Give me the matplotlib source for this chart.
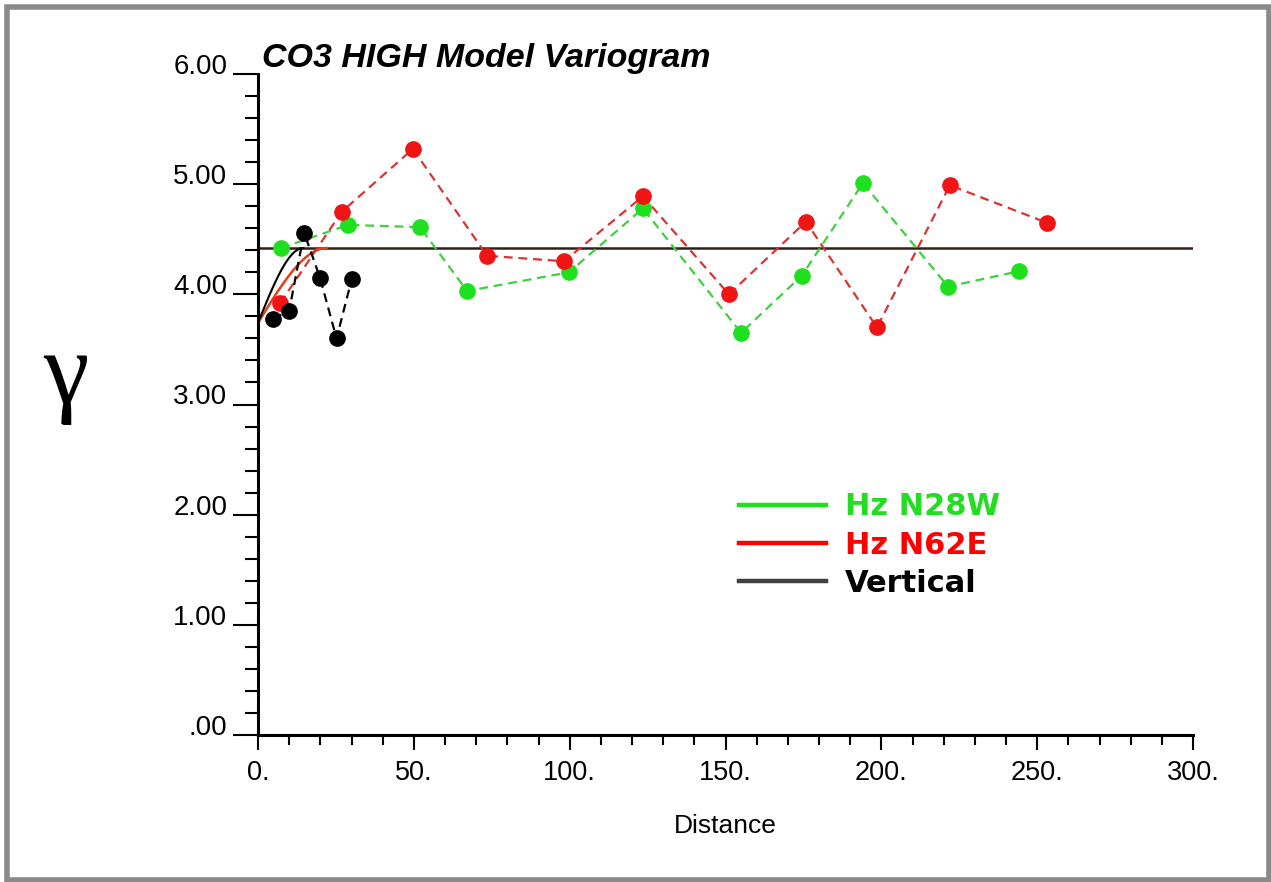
import numpy as np
import matplotlib
matplotlib.use('Agg')
import matplotlib.pyplot as plt
from matplotlib.lines import Line2D
from matplotlib.patches import Rectangle
from matplotlib.ticker import MultipleLocator

n28w_dist = [7.4, 28.9, 52.0, 67.1, 99.8, 123.5, 155.0, 174.5, 194.1, 221.4, 244.2]
n28w_gam = [4.42, 4.63, 4.61, 4.03, 4.20, 4.78, 3.65, 4.17, 5.01, 4.07, 4.21]

n62e_dist = [7.1, 26.9, 49.7, 73.5, 98.2, 123.5, 151.1, 175.8, 198.6, 222.0, 253.1]
n62e_gam = [3.92, 4.75, 5.32, 4.35, 4.30, 4.89, 4.00, 4.66, 3.70, 4.99, 4.65]

vert_dist = [4.9, 10.0, 14.8, 19.9, 25.2, 30.1]
vert_gam = [3.78, 3.85, 4.56, 4.15, 3.60, 4.14]

# model parameters (spherical)
nugget = 3.74
sill = 4.42
range_vert = 14.5
range_n62e = 22.0

xticks = [0, 50, 100, 150, 200, 250, 300]
xtick_labels = ['0.', '50.', '100.', '150.', '200.', '250.', '300.']
yticks = [0, 1, 2, 3, 4, 5, 6]
ytick_labels = ['.00', '1.00', '2.00', '3.00', '4.00', '5.00', '6.00']


def spherical(h, a):
    h = np.asarray(h, dtype=float)
    r = np.minimum(h / a, 1.0)
    return nugget + (sill - nugget) * (1.5 * r - 0.5 * r ** 3)


plt.rcParams['font.family'] = ['Liberation Sans', 'DejaVu Sans']

fig = plt.figure(figsize=(12.71, 8.82), dpi=100)
ax = fig.add_axes([258 / 1271, 1 - 735 / 882, 935 / 1271, 661 / 882])

# gray frame around the figure
fig.patches.append(Rectangle((7 / 1271, 2 / 882), 1262 / 1271, 873 / 882,
                             transform=fig.transFigure, fill=False,
                             edgecolor='#8a8a8a', linewidth=4))

# model curves
ax.plot([0, 300], [sill, sill], color='#2e2016', lw=1.8, zorder=2)
h = np.linspace(0, range_n62e, 100)
ax.plot(h, spherical(h, range_n62e), color='#e0401a', lw=1.8, zorder=2)
h = np.linspace(0, range_vert, 100)
ax.plot(h, spherical(h, range_vert), color='black', lw=1.5, zorder=2)

# experimental points
dash = (0, (4, 2.6))
ax.plot(n28w_dist, n28w_gam, color='#3fcf3f', lw=1.6, ls=dash, zorder=3)
ax.plot(n28w_dist, n28w_gam, 'o', color='#1fe01f', ms=11, zorder=4)
ax.plot(n62e_dist, n62e_gam, color='#d93333', lw=1.6, ls=dash, zorder=3)
ax.plot(n62e_dist, n62e_gam, 'o', color='#f01414', ms=11, zorder=4)
ax.plot(vert_dist, vert_gam, color='black', lw=1.6, ls=dash, zorder=3)
ax.plot(vert_dist, vert_gam, 'o', color='black', ms=11, zorder=4)

ax.set_xlim(0, 300)
ax.set_ylim(0, 6)
for s in ['top', 'right']:
    ax.spines[s].set_visible(False)
for s in ['left', 'bottom']:
    ax.spines[s].set_linewidth(2.2)

ax.set_xticks(xticks)
ax.set_xticklabels(xtick_labels, fontsize=19.5)
ax.set_yticks(yticks)
ax.set_yticklabels(ytick_labels, fontsize=20)
ax.xaxis.set_minor_locator(MultipleLocator(10))
ax.yaxis.set_minor_locator(MultipleLocator(0.2))
ax.tick_params(axis='x', which='major', length=11, width=1.5, pad=7)
ax.tick_params(axis='x', which='minor', length=7, width=1.5)
ax.tick_params(axis='y', which='major', length=18, width=1.5, pad=4)
ax.tick_params(axis='y', which='minor', length=9.5, width=1.5)
for lab in ax.get_yticklabels():
    lab.set_va('baseline')

ax.set_xlabel('Distance', fontsize=19, labelpad=20)
ax.text(0.004, 1.0, 'CO3 HIGH Model Variogram', transform=ax.transAxes,
        fontsize=24.5, fontweight='bold', fontstyle='italic',
        ha='left', va='bottom')
fig.text(66 / 1271, 1 - 403 / 882, '\u03b3', fontsize=74,
         family='Liberation Serif', ha='center', va='baseline')

handles = [Line2D([], [], color='#1fe01f', lw=3.2),
           Line2D([], [], color='#ff0000', lw=3.2),
           Line2D([], [], color='#404040', lw=3.2)]
leg = ax.legend(handles, ['Hz N28W', 'Hz N62E', 'Vertical'],
                loc='upper left', bbox_to_anchor=(0.498, 0.390),
                frameon=False, borderpad=0, handlelength=2.85,
                handletextpad=0.62, labelspacing=0.3,
                prop={'family': 'DejaVu Sans', 'weight': 'bold', 'size': 22})
for txt, c in zip(leg.get_texts(), ['#22dd22', '#ff0000', 'black']):
    txt.set_color(c)

fig.savefig('out.png', dpi=100)
